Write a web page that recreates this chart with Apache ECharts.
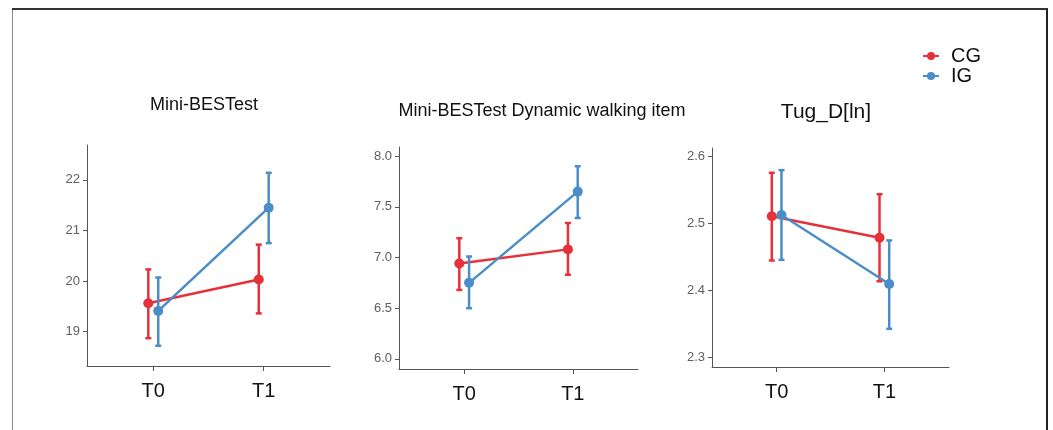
<!DOCTYPE html>
<html>
<head>
<meta charset="utf-8">
<script src="https://cdn.jsdelivr.net/npm/echarts@6/dist/echarts.min.js"></script>
<style>html,body{margin:0;padding:0;background:#fff}#c{width:1053px;height:430px}</style>
</head>
<body>
<div id="c"></div>
<script>
// ---- data ----
var categories = ['T0', 'T1'];
var groups = ['CG', 'IG'];
var titles = ['Mini-BESTest', 'Mini-BESTest Dynamic walking item', 'Tug_D[ln]'];

var p1CgMean = [19.56, 20.03], p1CgLow = [18.87, 19.36], p1CgHigh = [20.23, 20.72];
var p1IgMean = [19.41, 21.45], p1IgLow = [18.72, 20.75], p1IgHigh = [20.07, 22.14];

var p2CgMean = [6.94, 7.08], p2CgLow = [6.68, 6.83], p2CgHigh = [7.19, 7.34];
var p2IgMean = [6.75, 7.65], p2IgLow = [6.50, 7.39], p2IgHigh = [7.01, 7.90];

var p3CgMean = [2.511, 2.479], p3CgLow = [2.445, 2.414], p3CgHigh = [2.576, 2.544];
var p3IgMean = [2.513, 2.410], p3IgLow = [2.446, 2.343], p3IgHigh = [2.580, 2.475];

var p1Ticks = [19, 20, 21, 22];
var p2Ticks = [6.0, 6.5, 7.0, 7.5, 8.0];
var p3Ticks = [2.3, 2.4, 2.5, 2.6];

// ---- layout / style ----
var RED = '#E5323A', BLUE = '#4A8DC7';
var colors = [RED, BLUE];
var DODGE = 0.045;
var panels = [
  {grid: {left: 87, top: 145, width: 243, height: 221}, ymin: 18.32, ymax: 22.69, ticks: p1Ticks, dec: 0,
   data: [[p1CgMean, p1CgLow, p1CgHigh], [p1IgMean, p1IgLow, p1IgHigh]],
   title: {x: 199, y: 91, size: 18}},
  {grid: {left: 399, top: 147, width: 239, height: 222}, ymin: 5.9, ymax: 8.09, ticks: p2Ticks, dec: 1,
   data: [[p2CgMean, p2CgLow, p2CgHigh], [p2IgMean, p2IgLow, p2IgHigh]],
   title: {x: 537, y: 97, size: 18}},
  {grid: {left: 712, top: 148, width: 237, height: 219}, ymin: 2.286, ymax: 2.613, ticks: p3Ticks, dec: 1,
   data: [[p3CgMean, p3CgLow, p3CgHigh], [p3IgMean, p3IgLow, p3IgHigh]],
   title: {x: 821, y: 97, size: 21}}
];

var option = {
  animation: false,
  backgroundColor: '#fff',
  title: [], grid: [], xAxis: [], yAxis: [], series: [],
  legend: groups.map(function (g, i) {
    return {
      data: [g], orient: 'vertical', left: 917, top: 41 + i * 20,
      itemWidth: 16, itemHeight: 10, itemGap: 0,
      textStyle: {fontSize: 20, color: '#111', fontFamily: 'Liberation Sans, Arial', padding: [0, 0, 0, 7]}
    };
  }),
  graphic: [
    {type: 'line', shape: {x1: 12.5, y1: 9, x2: 12.5, y2: 430}, style: {stroke: '#888', lineWidth: 1}},
    {type: 'line', shape: {x1: 12, y1: 9, x2: 1048, y2: 9}, style: {stroke: '#333', lineWidth: 2}},
    {type: 'line', shape: {x1: 1047, y1: 9, x2: 1047, y2: 430}, style: {stroke: '#222', lineWidth: 2}}
  ]
};

panels.forEach(function (p, pi) {
  option.title.push({
    text: titles[pi], left: p.title.x, top: p.title.y, textAlign: 'center',
    textStyle: {fontSize: p.title.size, fontWeight: 'normal', color: '#111', fontFamily: 'Liberation Sans, Arial'}
  });
  option.grid.push(p.grid);
  option.xAxis.push({
    type: 'value', gridIndex: pi, min: 0.4, max: 2.6,
    splitLine: {show: false},
    axisLine: {lineStyle: {color: '#555', width: 1}},
    axisTick: {customValues: [1, 2], length: 5, lineStyle: {color: '#555'}},
    axisLabel: {customValues: [1, 2], margin: 15, fontSize: 20, color: '#111', fontFamily: 'Liberation Sans, Arial',
      formatter: function (v) { return categories[Math.round(v) - 1]; }}
  });
  option.yAxis.push({
    type: 'value', gridIndex: pi, min: p.ymin, max: p.ymax,
    splitLine: {show: false},
    axisLine: {show: true, lineStyle: {color: '#555', width: 1}},
    axisTick: {show: true, customValues: p.ticks, length: 4, lineStyle: {color: '#555'}},
    axisLabel: {customValues: p.ticks, margin: 7, fontSize: 13, color: '#606060', fontFamily: 'Liberation Sans, Arial',
      formatter: function (v) { return v.toFixed(p.dec); }}
  });
  p.data.forEach(function (d, gi) {
    var off = gi === 0 ? -DODGE : DODGE;
    var mean = d[0], low = d[1], high = d[2];
    var errData = categories.map(function (c, ci) { return [ci + 1 + off, low[ci], high[ci]]; });
    option.series.push({
      type: 'custom', xAxisIndex: pi, yAxisIndex: pi, silent: true, z: 2 + gi * 3,
      data: errData,
      encode: {x: 0, y: [1, 2]},
      renderItem: function (params, api) {
        var x = api.value(0);
        var a = api.coord([x, api.value(1)]);
        var b = api.coord([x, api.value(2)]);
        var cap = 3;
        var st = {stroke: colors[gi], lineWidth: 2.5};
        return {type: 'group', children: [
          {type: 'line', shape: {x1: a[0], y1: a[1], x2: b[0], y2: b[1]}, style: st},
          {type: 'line', shape: {x1: a[0] - cap, y1: a[1], x2: a[0] + cap, y2: a[1]}, style: st},
          {type: 'line', shape: {x1: b[0] - cap, y1: b[1], x2: b[0] + cap, y2: b[1]}, style: st}
        ]};
      }
    });
    option.series.push({
      type: 'line', name: groups[gi], xAxisIndex: pi, yAxisIndex: pi, z: 3 + gi * 3,
      data: categories.map(function (c, ci) { return [ci + 1 + off, mean[ci]]; }),
      symbol: 'circle', symbolSize: 10, showSymbol: true,
      lineStyle: {color: colors[gi], width: 2.5},
      itemStyle: {color: colors[gi]}
    });
  });
});

var chart = echarts.init(document.getElementById('c'), null, {renderer: 'canvas'});
chart.setOption(option);
</script>
</body>
</html>
